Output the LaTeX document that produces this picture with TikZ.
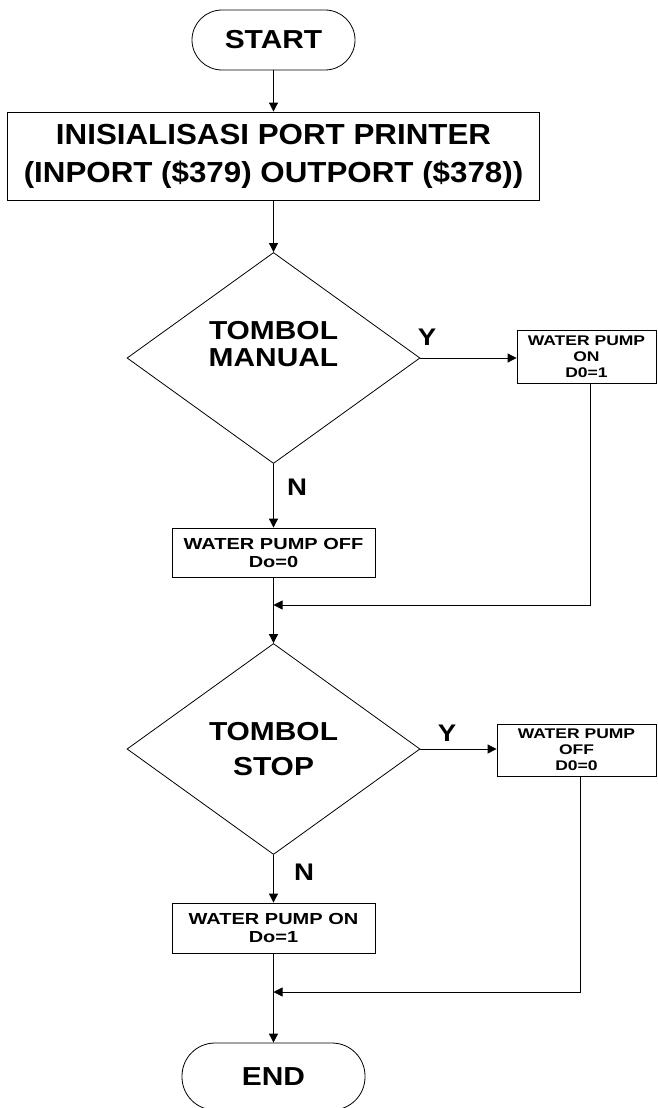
\documentclass[tikz,border=0pt]{standalone}
\usepackage{graphicx}
\usepackage{fontspec}
\setmainfont{Liberation Sans}
\usetikzlibrary{shapes.geometric,arrows.meta}
\newcommand\W[2][1.15]{\scalebox{#1}[1]{#2}}
\begin{document}
\begin{tikzpicture}[x=1pt,y=-1pt,line width=0.8pt,
  box/.style={draw,rectangle,inner sep=0pt,align=center},
  term/.style={draw,rectangle,rounded corners=30pt,inner sep=0pt,minimum width=163pt,minimum height=60pt,font=\bfseries\fontsize{26}{30}\selectfont},
  dec/.style={draw,diamond,inner sep=0pt,minimum width=293pt,minimum height=211pt},
  bigtxt/.style={font=\bfseries\fontsize{26}{27}\selectfont,align=center,inner sep=0pt},
  lbl/.style={font=\bfseries\fontsize{24}{24}\selectfont,inner sep=0pt},
  smalltxt/.style={font=\bfseries\fontsize{16}{18}\selectfont},
  tinytxt/.style={font=\bfseries\fontsize{14}{16}\selectfont},
  arr/.style={-{Triangle[length=9pt,width=9pt]}}
  ]
\clip (0,0) rectangle (657,1108);
\node[term] (start) at (273.5,40) {\W{START}};
\node[box,minimum width=532pt,minimum height=88pt,font=\bfseries\fontsize{29}{38}\selectfont] (init) at (273.5,156) {\W[1.08]{INISIALISASI PORT PRINTER}\\\W[1.08]{(INPORT (\$379) OUTPORT (\$378))}};
\node[dec,label={[bigtxt,yshift=14pt]center:{\W{TOMBOL}\\\W{MANUAL}}}] (d1) at (273.5,358) {};
\node[lbl] (y1) at (427,337) {\W{Y}};
\node[box,tinytxt,minimum width=139pt,minimum height=53pt] (on1) at (586.5,356.5) {\W[1.25]{WATER PUMP}\\\W[1.25]{ON}\\\W[1.25]{D0=1}};
\node[lbl] (n1) at (297,487) {\W{N}};
\node[box,smalltxt,minimum width=203pt,minimum height=49pt] (off1) at (273.5,552.5) {\W[1.25]{WATER PUMP OFF}\\\W[1.25]{Do=0}};
\coordinate (j1) at (273.5,605);
\node[dec,label={[bigtxt,font=\bfseries\fontsize{26}{35}\selectfont]center:{\W{TOMBOL}\\\W{STOP}}}] (d2) at (273.5,749) {};
\node[lbl] (y2) at (447,733) {\W{Y}};
\node[box,tinytxt,minimum width=159pt,minimum height=52pt] (off2) at (576.5,750) {\W[1.25]{WATER PUMP}\\\W[1.25]{OFF}\\\W[1.25]{D0=0}};
\node[lbl] (n2) at (304,872) {\W{N}};
\node[box,smalltxt,minimum width=203pt,minimum height=50pt] (on2) at (273.5,928) {\W[1.25]{WATER PUMP ON}\\\W[1.25]{Do=1}};
\coordinate (j2) at (273.5,992);
\node[term,minimum height=67pt,rounded corners=33pt,minimum width=183pt] (end) at (273.5,1076.5) {\W{END}};
\draw[arr] (start.south) -- (init.north);
\draw[arr] (init.south) -- (d1.north);
\draw[arr] (d1.east) -- (d1.east -| on1.west);
\draw[arr] (d1.south) -- (off1.north);
\draw[arr] ([xshift=3.5pt]on1.south) |- (j1);
\draw (off1.south) -- (j1);
\draw[arr] (j1) -- (d2.north);
\draw[arr] (d2.east) -- (d2.east -| off2.west);
\draw[arr] (d2.south) -- (on2.north);
\draw[arr] ([xshift=3.5pt]off2.south) |- (j2);
\draw (on2.south) -- (j2);
\draw[arr] (j2) -- (end.north);
\end{tikzpicture}
\end{document}
